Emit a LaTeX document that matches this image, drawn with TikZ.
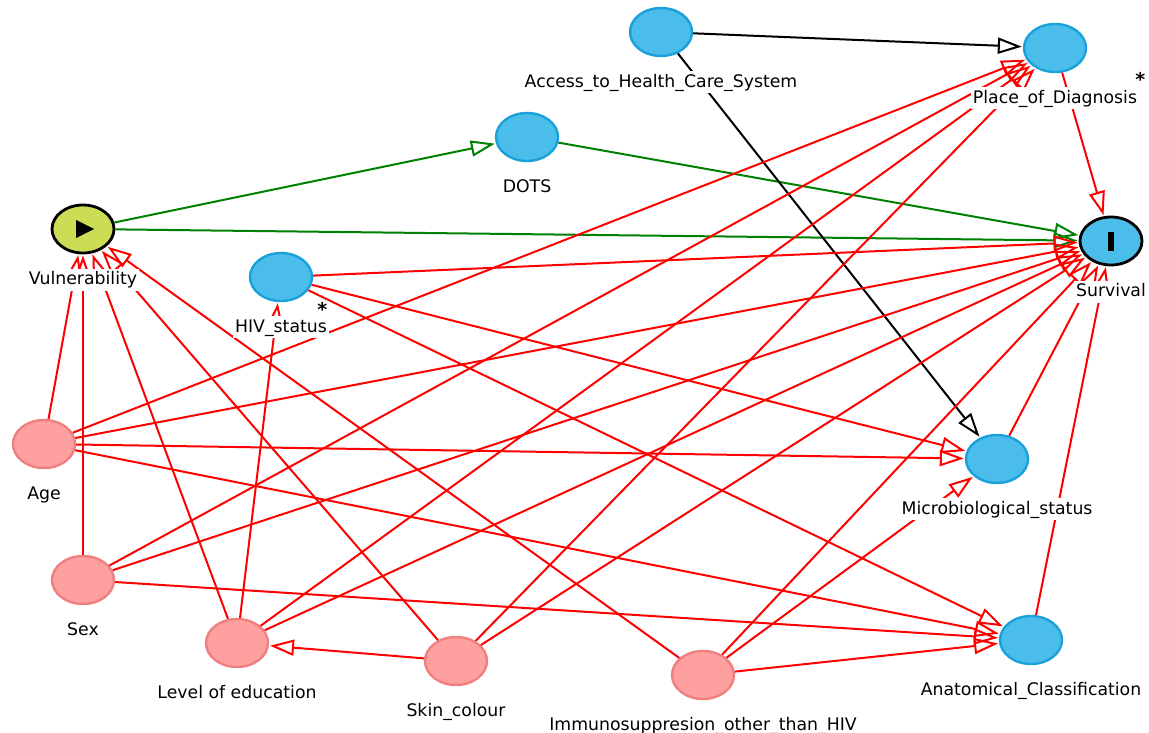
\documentclass[tikz,border=0pt]{standalone}
\usepackage{fontspec}
\setmainfont{DejaVu Sans}
\usepackage{xcolor}
\usetikzlibrary{positioning, arrows.meta, shapes.geometric}

\definecolor{adjfill}{HTML}{4BBDEA}
\definecolor{adjline}{HTML}{1AA1DB}
\definecolor{covfill}{HTML}{FFA0A0}
\definecolor{covline}{HTML}{F08080}
\definecolor{expfill}{HTML}{CCDC54}
\definecolor{pathgreen}{HTML}{008000}

\begin{document}
\begin{tikzpicture}[
    x=1pt, y=-1pt,
    every node/.style={font=\fontsize{17.3}{20}\selectfont},
    varbox/.style={
        ellipse,
        minimum width=62pt,
        minimum height=48pt,
        inner sep=0pt,
        line width=2.4pt,
    },
    adjbox/.style={varbox, draw=adjline, fill=adjfill},
    covbox/.style={varbox, draw=covline, fill=covfill},
    keybox/.style={varbox, draw=black, line width=2.8pt, fill=#1},
    tag/.style={
        fill=white,
        inner sep=2pt,
        text height=14pt,
        text depth=4pt,
    },
    asterisk/.style={inner sep=0pt, anchor=south west, font=\fontsize{19}{20}\selectfont\bfseries},
    arr/.style={-{Triangle[open, length=24pt, width=16pt]}, line width=2pt, shorten >=1pt, #1},
]
\useasboundingbox (0,0) rectangle (1149,733);

% Variables
\node[adjbox] (acc) at (661,32) {};
\node[adjbox] (pla) at (1055,48) {};
\node[adjbox] (dot) at (527,137) {};
\node[keybox=expfill] (vul) at (83,229) {};
\node[keybox=adjfill] (sur) at (1111,241) {};
\node[adjbox] (hiv) at (281,277) {};
\node[covbox] (age) at (44,444) {};
\node[adjbox] (mic) at (997,459) {};
\node[covbox] (sex) at (83,580) {};
\node[adjbox] (ana) at (1031,640) {};
\node[covbox] (edu) at (237,643) {};
\node[covbox] (ski) at (456,661) {};
\node[covbox] (imm) at (703,675) {};

% Exposure and outcome marks
\fill (vul.center) ++(-7,-9) -- ++(18,9) -- ++(-18,9) -- cycle;
\fill ([shift={(-3,-9)}]sur.center) rectangle ([shift={(3,10)}]sur.center);

% Causal paths (green)
\draw[arr=pathgreen] (vul) -- (dot);
\draw[arr=pathgreen] (vul) -- (sur);
\draw[arr=pathgreen] (dot) -- (sur);

% Access to health care
\draw[arr=black] (acc) -- (pla);
\draw[arr=black] (acc) -- (mic);

% Biasing paths (red)
\draw[arr=red] (pla) -- (sur);
\draw[arr=red] (hiv) -- (sur);
\draw[arr=red] (hiv) -- (mic);
\draw[arr=red] (hiv) -- (ana);
\draw[arr=red] (mic) -- (sur);
\draw[arr=red] (ana) -- (sur);

\draw[arr=red] (age) -- (vul);
\draw[arr=red] (age) -- (pla);
\draw[arr=red] (age) -- (sur);
\draw[arr=red] (age) -- (mic);
\draw[arr=red] (age) -- (ana);

\draw[arr=red] (sex) -- (vul);
\draw[arr=red] (sex) -- (pla);
\draw[arr=red] (sex) -- (sur);
\draw[arr=red] (sex) -- (ana);

\draw[arr=red] (edu) -- (vul);
\draw[arr=red] (edu) -- (hiv);
\draw[arr=red] (edu) -- (pla);
\draw[arr=red] (edu) -- (sur);

\draw[arr=red] (ski) -- (vul);
\draw[arr=red] (ski) -- (edu);
\draw[arr=red] (ski) -- (pla);
\draw[arr=red] (ski) -- (sur);

\draw[arr=red] (imm) -- (vul);
\draw[arr=red] (imm) -- (sur);
\draw[arr=red] (imm) -- (mic);
\draw[arr=red] (imm) -- (ana);

% Labels (white, on top of the arcs)
\node[tag, below=14pt of acc] (acc-l) {Access\_to\_Health\_Care\_System};
\node[tag, below=14pt of pla] (pla-l) {Place\_of\_Diagnosis};
\node[tag, below=14pt of dot] (dot-l) {DOTS};
\node[tag, below=14pt of vul] (vul-l) {Vulnerability};
\node[tag, below=14pt of sur] (sur-l) {Survival};
\node[tag, below=14pt of hiv] (hiv-l) {HIV\_status};
\node[tag, below=14pt of age] (age-l) {Age};
\node[tag, below=14pt of mic] (mic-l) {Microbiological\_status};
\node[tag, below=14pt of sex] (sex-l) {Sex};
\node[tag, below=14pt of ana] (ana-l) {Anatomical\_Classification};
\node[tag, below=14pt of edu] (edu-l) {Level of education};
\node[tag, below=14pt of ski] (ski-l) {Skin\_colour};
\node[tag, below=14pt of imm] (imm-l) {Immunosuppresion\_other\_than\_HIV};

% Marks beside two labels
\node[asterisk, xshift=-4pt] (pla-s) at (pla-l.north east) {*};
\node[asterisk, xshift=-12pt] (hiv-s) at (hiv-l.north east) {*};

\end{tikzpicture}
\end{document}
